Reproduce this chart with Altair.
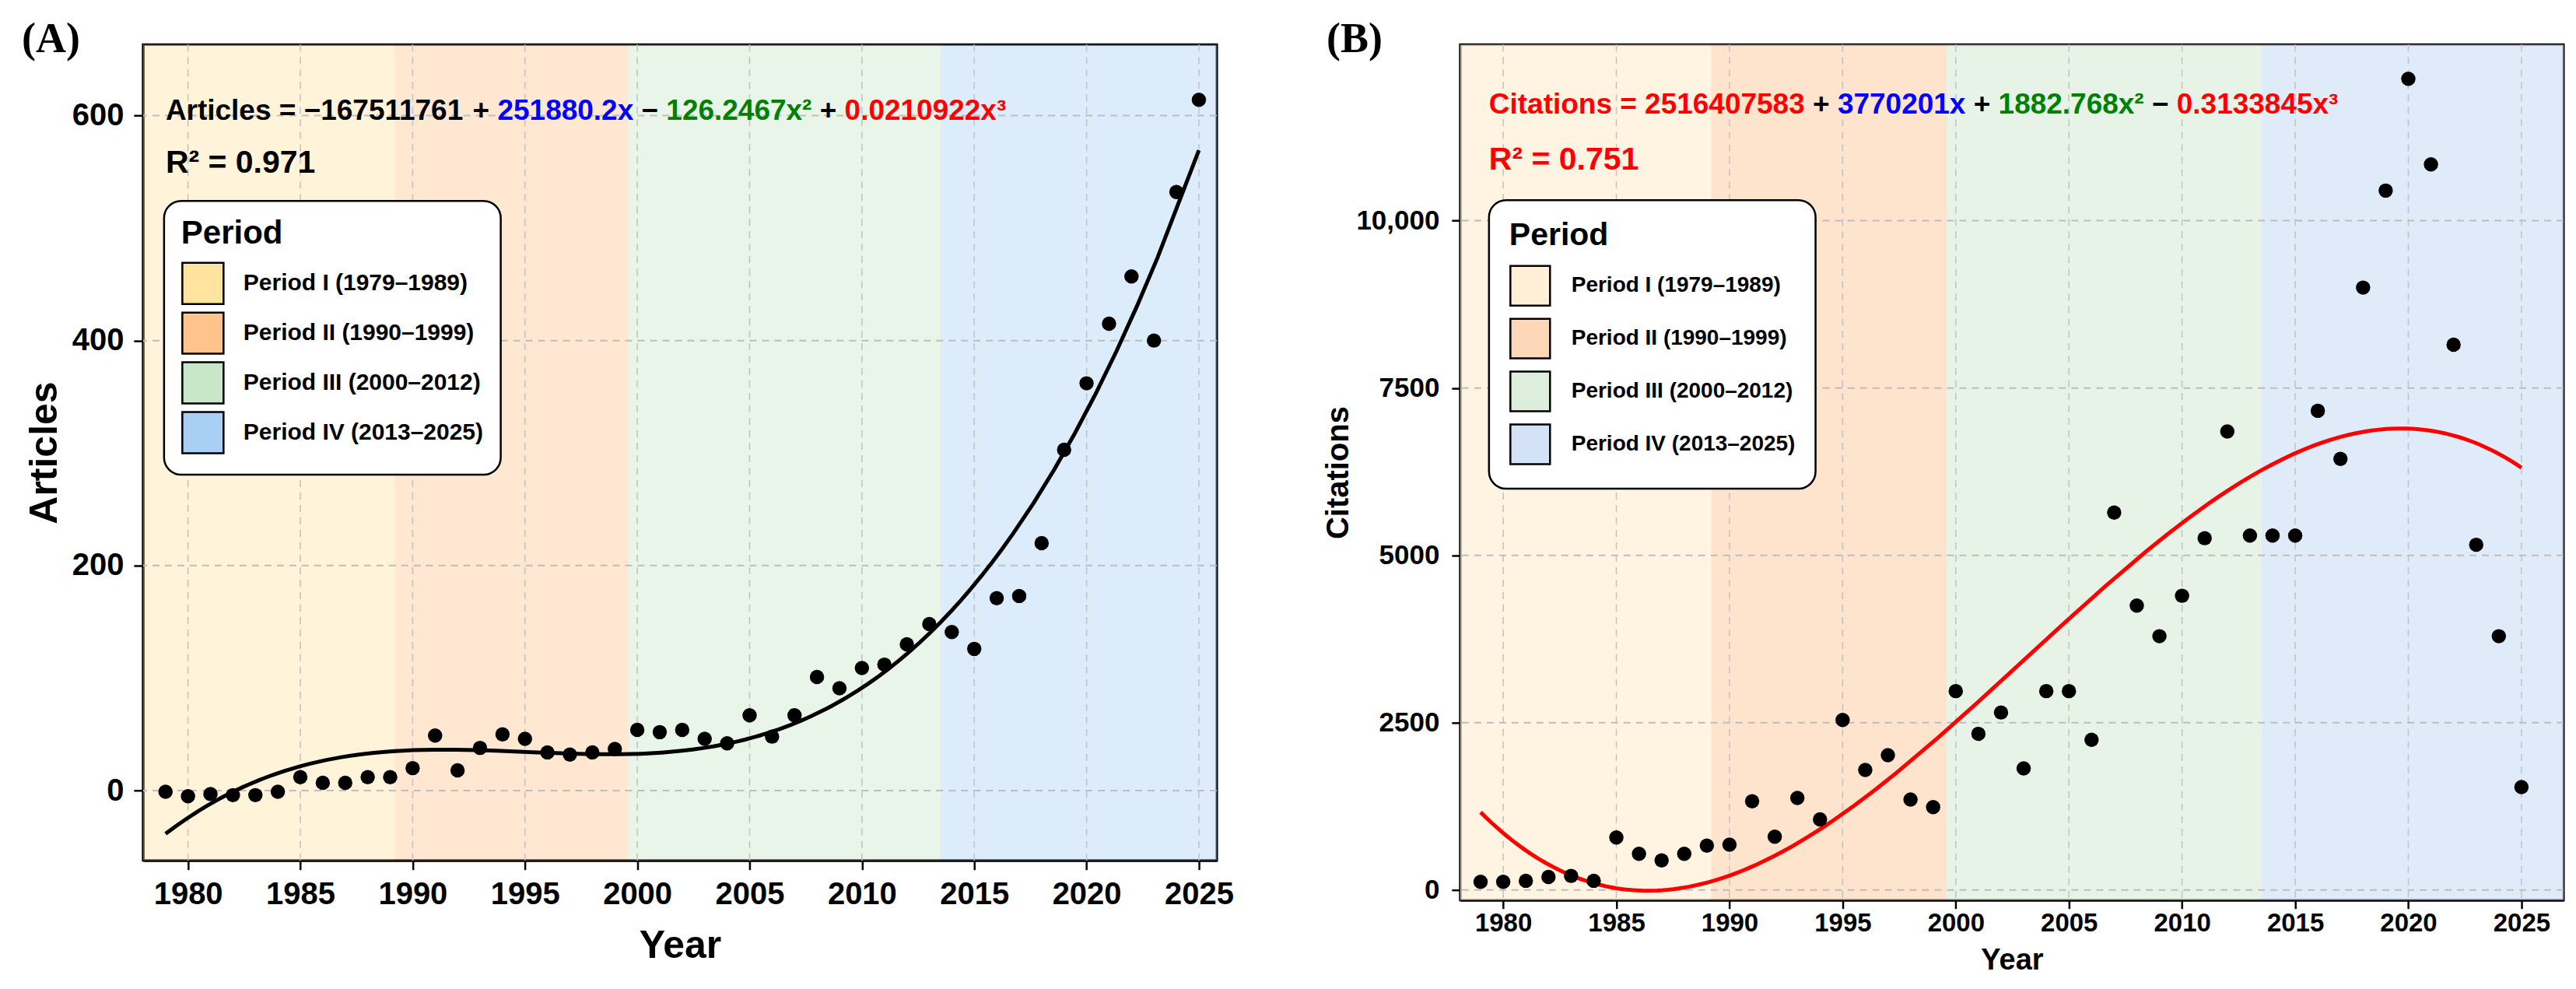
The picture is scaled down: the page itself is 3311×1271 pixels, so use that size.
import altair as alt
import pandas as pd

# ---------------- data ----------------
years = list(range(1979, 2026))
articles = [-1, -5, -3, -4, -4, -1, 12, 7, 7, 12,
            12, 20, 49, 18, 38, 50, 46, 34, 32, 34,
            37, 54, 52, 54, 46, 42, 67, 48, 67, 101,
            91, 109, 112, 130, 148, 141, 126, 171, 173, 220,
            303, 362, 415, 457, 400, 532, 614]
citations = [123, 123, 138, 196, 211, 138, 786, 540, 442, 540,
             663, 678, 1326, 796, 1375, 1056, 2540, 1793, 2014, 1351,
             1238, 2972, 2333, 2652, 1817, 2972, 2972, 2245, 5639, 4249,
             3792, 4396, 5256, 6850, 5295, 5295, 5295, 7160, 6440, 9000,
             10450, 12120, 10840, 8146, 5158, 3792, 1537]

x_ticks = [1980, 1985, 1990, 1995, 2000, 2005, 2010, 2015, 2020, 2025]
a_y_ticks = [0, 200, 400, 600]
b_y_ticks = [0, 2500, 5000, 7500, 10000]

period_names = ["Period I (1979–1989)", "Period II (1990–1999)",
                "Period III (2000–2012)", "Period IV (2013–2025)"]
period_start = [1978.0, 1989.2, 1999.6, 2013.5]
period_end = [1989.2, 1999.6, 2013.5, 2027.0]
a_period_colors = ["#FFE4A0", "#FFC48C", "#C8E6C8", "#A9CFF5"]
b_period_colors = ["#FFEFD6", "#FDD7B8", "#DDEEDD", "#D3E2F6"]

eq_a = [("Articles = −167511761", "#000000"), ("+", "#000000"),
        ("251880.2x", "#0000FF"), ("−", "#000000"),
        ("126.2467x²", "#008000"), ("+", "#000000"),
        ("0.0210922x³", "#FF0000")]
eq_b = [("Citations = 2516407583", "#FF0000"), ("+", "#000000"),
        ("3770201x", "#0000FF"), ("+", "#000000"),
        ("1882.768x²", "#008000"), ("−", "#000000"),
        ("0.3133845x³", "#FF0000")]
r2_a = ("R² = 0.971", "#000000")
r2_b = ("R² = 0.751", "#FF0000")

SANS = "Liberation Sans"
SERIF = "Liberation Serif"

# Arial/Liberation-Sans-Bold advance widths (per 1000 em) for laying out coloured segments
AB = {' ': 278, '=': 584, '−': 584, '+': 584, '.': 278, 'x': 556, 'A': 722, 'r': 389,
      't': 333, 'i': 278, 'c': 556, 'l': 278, 'e': 556, 's': 556, 'C': 722, 'a': 556,
      'o': 611, 'n': 611, '²': 333, '³': 333, 'R': 722}
for d in "0123456789":
    AB[d] = 556


def tw(s, size):
    return sum(AB.get(c, 556) for c in s) * size / 1000.0


one = pd.DataFrame({"k": [0]})


def text_layers(segs, x0, y0, size):
    out = []
    x = x0
    for s, col in segs:
        out.append(
            alt.Chart(one).mark_text(text=s, color=col, font=SANS, fontSize=size,
                                     fontWeight="bold", align="left", baseline="alphabetic")
            .encode(x=alt.value(x), y=alt.value(y0))
        )
        x += tw(s, size) + tw(" ", size)
    return out


def panel(values, xdom, ydom, yticks, w, h, line_color, colors, fill_op,
          eq, eq_xy, r2, r2_xy, tag, tag_x, ax, leg):
    df = pd.DataFrame({"year": years, "value": values})
    xscale = alt.Scale(domain=xdom, nice=False, zero=False)
    yscale = alt.Scale(domain=ydom, nice=False, zero=False)
    xaxis = alt.Axis(values=x_ticks, format="d", title="Year", grid=False,
                     titleFont=SANS, titleFontSize=ax["xts"], titleFontWeight="bold",
                     titleColor="black", titleY=ax["xty"],
                     labelFont=SANS, labelFontSize=ax["xls"], labelFontWeight="bold",
                     labelColor="black", labelPadding=ax["xlp"], labelFlush=False,
                     tickColor="black", tickSize=ax["ts"], tickWidth=2.5,
                     domainColor="black", domainWidth=3)
    yaxis = alt.Axis(values=yticks, title=ax["ytitle"], grid=False,
                     labelExpr="datum.value >= 10000 ? format(datum.value, ',') : format(datum.value, 'd')",
                     titleFont=SANS, titleFontSize=ax["yts"], titleFontWeight="bold",
                     titleColor="black", titleX=ax["ytx"],
                     labelFont=SANS, labelFontSize=ax["yls"], labelFontWeight="bold",
                     labelColor="black", labelPadding=ax["ylp"],
                     tickColor="black", tickSize=ax["ts"], tickWidth=2.5,
                     domainColor="black", domainWidth=3)
    X = alt.X("year:Q", scale=xscale, axis=xaxis)
    Y = alt.Y("value:Q", scale=yscale, axis=yaxis)

    pdf = pd.DataFrame({"period": period_names, "start": period_start, "end": period_end})
    bg = alt.Chart(pdf).mark_rect(clip=True, fillOpacity=fill_op).encode(
        x=alt.X("start:Q", scale=xscale, axis=xaxis),
        x2="end:Q",
        y=alt.value(0), y2=alt.value(h),
        color=alt.Color("period:N",
                        scale=alt.Scale(domain=period_names, range=colors),
                        legend=alt.Legend(
                            orient="none", legendX=leg["x"], legendY=leg["y"],
                            title="Period", titleFont=SANS, titleFontSize=leg["ts"],
                            titleFontWeight="bold", titleColor="black",
                            titlePadding=leg["tp"],
                            labelFont=SANS, labelFontSize=leg["ls"], labelFontWeight="bold",
                            labelColor="black", labelOffset=leg["lo"], labelLimit=1000,
                            symbolType="square", symbolSize=leg["ss"],
                            symbolStrokeColor="black", symbolStrokeWidth=2.5,
                            symbolOpacity=1,
                            rowPadding=leg["rp"], padding=leg["pad"], cornerRadius=22,
                            fillColor="white", strokeColor="black")),
    )
    xgrid = alt.Chart(pd.DataFrame({"year": x_ticks})).mark_rule(
        color="#C4C4C4", strokeDash=[9, 7], strokeWidth=1.6).encode(x=X)
    ygrid = alt.Chart(pd.DataFrame({"value": yticks})).mark_rule(
        color="#BDBDBD", strokeDash=[9, 7], strokeWidth=2).encode(y=Y)
    fit = alt.Chart(df).transform_regression("year", "value", method="poly", order=3).mark_line(
        color=line_color, strokeWidth=5).encode(x=X, y=Y)
    pts = alt.Chart(df).mark_circle(size=340, color="black", opacity=1).encode(x=X, y=Y)

    layers = [bg, xgrid, ygrid, fit, pts]
    layers += text_layers(eq, eq_xy[0], eq_xy[1], 37)
    layers += text_layers([r2], r2_xy[0], r2_xy[1], 41)
    layers.append(alt.Chart(one).mark_text(text=tag, font=SERIF, fontSize=54, fontWeight="bold",
                                           color="black", align="left", baseline="alphabetic")
                  .encode(x=alt.value(tag_x), y=alt.value(10)))
    return alt.layer(*layers).properties(width=w, height=h)


pa = panel(articles, [1978.0, 2025.8], [-62, 663], a_y_ticks, 1381, 1049, "#000000",
           a_period_colors, 0.4, eq_a, (29, 97), r2_a, (29, 165), "(A)", -156,
           dict(xts=50, xty=85, xls=40, xlp=12, ts=12,
                ytitle="Articles", yts=50, ytx=-101.5, yls=40, ylp=13),
           dict(x=27, y=201, ts=42, tp=14, ls=30, lo=24, ss=2809, rp=0, pad=22))

pb = panel(citations, [1978.1, 2026.86], [-150, 12630], b_y_ticks, 1419, 1100, "#FF0000",
           b_period_colors, 0.7, eq_b, (37, 89), r2_b, (37, 161), "(B)", -172,
           dict(xts=38, xty=59, xls=33, xlp=3, ts=11,
                ytitle="Citations", yts=40, ytx=-136.6, yls=35, ylp=16),
           dict(x=37, y=200, ts=41, tp=16, ls=28, lo=26, ss=2601, rp=6, pad=26))

chart = alt.hconcat(pa, pb, spacing=111).resolve_scale(
    color="independent"
).resolve_legend(color="independent").properties(
    padding={"left": 18, "top": 14, "right": 5, "bottom": 5}
).configure(background="white").configure_view(
    stroke="black", strokeWidth=3
).configure_legend(strokeWidth=2.5)

chart.save("out.html", embed_options={"renderer": "svg", "actions": False})
